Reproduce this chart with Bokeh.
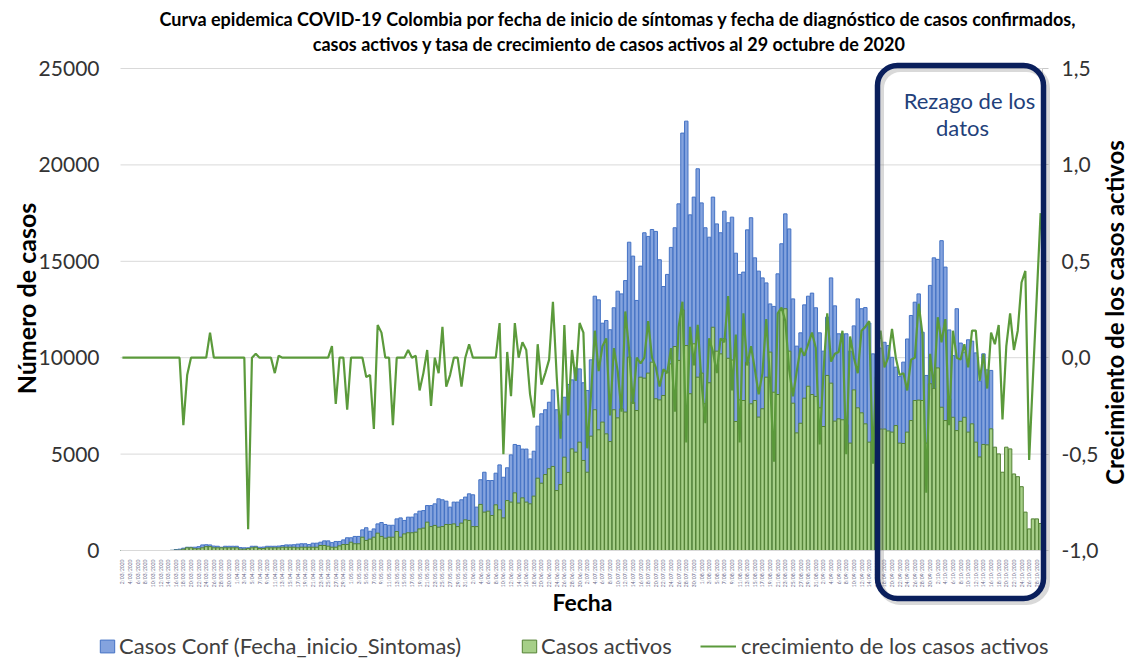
from math import pi
import pandas as pd
from bokeh.plotting import figure
from bokeh.models import (Range1d, LinearAxis, FixedTicker, CustomJSTickFormatter, Label,
                          Legend, LegendItem, BoxAnnotation, ColumnDataSource)
from bokeh.embed import file_html
from bokeh.resources import INLINE

# ---------------- data ----------------
fechas = [f"{d.day}/{d.month:02d}/{d.year}" for d in pd.date_range("2020-03-02", "2020-10-29")]

casos_conf = [
    0, 0, 0, 0, 0, 0, 0, 0, 0, 0, 0, 0, 0,
    10, 50, 70, 120, 170, 170, 170, 200, 290, 300,
    290, 230, 220, 170, 220, 220, 220, 220, 150, 140,
    140, 220, 220, 170, 180, 220, 220, 220, 230, 260,
    290, 290, 300, 330, 350, 350, 310, 380, 380, 430,
    500, 500, 410, 470, 470, 550, 660, 660, 730, 730,
    1070, 1180, 1000, 1120, 1380, 1450, 1350, 1310, 1310, 1640,
    1690, 1560, 1730, 1730, 1900, 2040, 2070, 2330, 2330, 2420,
    2680, 2630, 2560, 2250, 2510, 2510, 2630, 2770, 2940, 2890,
    2250, 3670, 4060, 3630, 3630, 4010, 4440, 3800, 4290, 4960,
    5500, 5450, 5260, 5260, 4750, 5150, 6450, 7090, 7300, 7690,
    8330, 7300, 6690, 7950, 8610, 8850, 9470, 9420, 8700, 8300,
    9890, 13190, 13000, 11790, 11930, 11450, 12590, 13450, 13310, 14000,
    15990, 15270, 12970, 14750, 16480, 16290, 16650, 16550, 15080, 13690,
    14320, 15720, 16740, 17980, 21650, 22270, 17410, 18330, 19800, 18030,
    16740, 16250, 18330, 16940, 16480, 17600, 17000, 17290, 15420, 14320,
    14440, 16630, 17260, 15180, 14490, 14140, 13880, 12790, 12660, 14350,
    15910, 17460, 16680, 13050, 10600, 11290, 12740, 13190, 13350, 12590,
    11290, 10340, 12100, 14140, 12690, 11240, 11240, 11240, 10340, 11650,
    13050, 12540, 12600, 11800, 10200, 9000, 10500, 10800, 10630, 10020,
    9510, 9020, 9770, 10970, 12190, 12880, 13310, 11320, 9080, 13750,
    15180, 15100, 16070, 14700, 11440, 10110, 12540, 10760, 10290, 10930,
    10860, 10250, 8780, 10200, 9370, 9340,
    0, 0, 0, 0, 0, 0, 0, 0, 0, 0, 0, 0, 0,
]

casos_activos = [
    0, 0, 0, 0, 0, 0, 0, 0, 0, 0, 0, 0, 0,
    5, 20, 20, 70, 140, 140, 90, 90, 140, 200,
    200, 140, 140, 140, 140, 140, 140, 140, 70, 70,
    100, 140, 170, 100, 100, 140, 140, 140, 140, 170,
    170, 170, 170, 140, 170, 170, 170, 170, 170, 260,
    260, 225, 170, 170, 240, 310, 310, 430, 350, 350,
    690, 520, 590, 690, 900, 730, 640, 690, 690, 985,
    690, 860, 920, 920, 950, 1120, 1160, 1470, 1240, 1300,
    1210, 1240, 1350, 1350, 1380, 1240, 1420, 1590, 1560, 1240,
    1240, 2390, 1990, 2040, 1815, 2370, 2110, 1690, 2590, 2510,
    2990, 2460, 2730, 2510, 2420, 2820, 3750, 3490, 3940, 4240,
    4360, 3110, 3420, 4840, 4050, 5270, 5100, 5620, 4670, 4060,
    5930, 7300, 6260, 6660, 6050, 5650, 7300, 6880, 7350, 7180,
    10030, 7690, 7260, 8990, 8940, 9200, 9770, 7870, 7810, 8040,
    9250, 9680, 10580, 9860, 12480, 10630, 8130, 10720, 8990, 9200,
    7610, 8700, 11580, 10340, 10200, 10980, 9970, 9880, 6690, 7810,
    7780, 9770, 7610, 7780, 6920, 7350, 8990, 10290, 8210, 8090,
    12480, 12540, 10340, 7640, 6100, 6600, 7900, 8520, 8090, 7990,
    7400, 6430, 9080, 8680, 6710, 6830, 6780, 6540, 5570, 8330,
    7400, 7140, 6570, 5620, 5700, 6900, 6300, 6300, 6200, 6140,
    6480, 5570, 5550, 6140, 6740, 7780, 7800, 7780, 5570, 8650,
    8400, 9470, 7430, 6740, 7870, 6910, 6220, 6700, 6910, 6140,
    6570, 5620, 4850, 5500, 5480, 6310, 5360, 5010, 4060, 5360,
    5270, 3970, 3830, 3310, 1990, 1120, 1640, 1640, 1400,
]

crecimiento = [
    0, 0, 0, 0, 0, 0, 0, 0, 0, 0,
    0, 0, 0, 0, 0, 0, -0.35, -0.09, 0, 0,
    0, 0, 0, 0.13, 0, 0, 0, 0, 0, 0,
    0, 0, 0, -0.89, 0, 0.02, 0, 0, 0, 0,
    -0.08, 0.01, 0, 0, 0, 0, 0, 0, 0, 0,
    0, 0, 0, 0, 0, 0.06, -0.24, 0, 0, -0.27,
    0, 0, 0, 0, -0.10, -0.09, -0.37, 0.17, 0.13, 0,
    0, -0.35, 0, 0, 0, 0.04, 0, 0.01, -0.17, -0.08,
    0.04, -0.25, 0, -0.08, 0.16, -0.15, -0.09, 0, 0, -0.15,
    0, 0.07, 0, 0, 0, 0, 0, 0, 0, 0.18,
    -0.50, 0.03, -0.20, 0.18, 0, 0.08, 0.04, -0.19, -0.31, 0.07,
    -0.14, -0.08, -0.01, 0.29, -0.10, -0.42, 0.17, -0.30, 0.04, -0.12,
    0.18, 0.13, -0.47, -0.19, 0.14, -0.07, 0.06, 0.10, -0.30, 0.05,
    -0.07, -0.28, 0.24, 0.04, -0.24, 0, -0.03, 0, 0.19, 0,
    -0.05, -0.15, -0.06, -0.08, 0.05, -0.28, 0.16, 0.29, -0.44, 0.16,
    -0.04, 0.17, -0.13, -0.34, 0.10, 0.03, -0.08, 0.10, 0.08, 0.32,
    -0.17, 0.12, -0.44, 0.23, -0.04, 0.06, -0.06, -0.19, -0.08, 0.20,
    -0.12, -0.54, 0.23, 0.26, 0.19, -0.06, -0.20, -0.07, 0.05, 0.01,
    0.07, 0.13, 0.05, -0.45, -0.08, 0.23, -0.02, 0.02, 0.03, 0.14,
    -0.50, 0.11, 0, -0.08, 0.14, 0.16, 0.19, -0.55, 0.04, 0.14,
    -0.05, 0, 0.15, 0, -0.09, -0.08, -0.17, -0.01, 0, 0.28,
    0.12, -0.70, 0.02, -0.16, 0.21, 0.08, 0.20, -0.35, 0.14, 0,
    -0.01, 0.07, -0.05, 0.14, 0.14, -0.12, 0.02, -0.16, 0.13, 0.07,
    0.17, -0.32, 0.06, 0.23, 0.04, 0.14, 0.39, 0.45, -0.53, -0.10,
    0.32, 0.75,
]

left_ticks = [0, 5000, 10000, 15000, 20000, 25000]
right_ticks = [-1.0, -0.5, 0.0, 0.5, 1.0, 1.5]

titulo_1 = "Curva epidemica COVID-19 Colombia  por fecha de inicio de síntomas  y fecha de diagnóstico de casos confirmados,"
titulo_2 = "casos activos y tasa de crecimiento de casos activos  al 29 octubre de 2020"

# ---------------- layout (pixels) ----------------
W, H = 1133, 661
PL, PR, PT, PB = 120, 1042, 68, 550      # plot-area edges in page pixels
n = len(fechas)
x0, x1 = -0.5, n - 0.5
y0, y1 = left_ticks[0], left_ticks[-1]
g0, g1 = right_ticks[0], right_ticks[-1]

def ext(a, b, lo_px, hi_px, total):
    k = (b - a) / (hi_px - lo_px)
    return a - lo_px * k, b + (total - hi_px) * k

xr = ext(x0, x1, PL, PR, W)
yr = ext(y0, y1, H - PB, H - PT, H)
gr = ext(g0, g1, H - PB, H - PT, H)

FONT = "Lato"

src = ColumnDataSource(dict(x=list(range(n)), fecha=fechas, conf=casos_conf,
                            act=casos_activos, cre=crecimiento))

p = figure(width=W, height=H, output_backend="svg", toolbar_location=None,
           x_range=Range1d(*xr), y_range=Range1d(*yr),
           min_border=0, min_border_left=0, min_border_right=0,
           min_border_top=0, min_border_bottom=0)
p.title.visible = False
p.outline_line_color = None
p.background_fill_color = "white"
p.border_fill_color = "white"
p.xgrid.visible = False
p.ygrid.visible = False
p.extra_y_ranges = {"g": Range1d(*gr)}

# gridlines limited to the plot area
p.segment(x0=[x0] * len(left_ticks), x1=[x1] * len(left_ticks), y0=left_ticks, y1=left_ticks,
          line_color="#d9d9d9", line_width=1)

# left axis
p.yaxis.fixed_location = x0
p.yaxis.bounds = (y0, y1)
p.yaxis.ticker = FixedTicker(ticks=left_ticks)
p.yaxis.axis_line_color = None
p.yaxis.major_tick_line_color = None
p.yaxis.minor_tick_line_color = None
p.yaxis.major_label_text_font = FONT
p.yaxis.major_label_text_font_size = "21px"
p.yaxis.major_label_text_color = "#333333"
p.yaxis.major_label_standoff = 15

# bottom axis (dates)
p.xaxis.fixed_location = y0
p.xaxis.bounds = (x0, x1)
p.xaxis.ticker = FixedTicker(ticks=list(range(0, n, 2)))
p.xaxis.formatter = CustomJSTickFormatter(args=dict(d=fechas), code="return d[tick] || '';")
p.xaxis.major_label_orientation = pi / 2
p.xaxis.major_label_text_font = FONT
p.xaxis.major_label_text_font_size = "5px"
p.xaxis.major_label_text_color = "#6a6a8a"
p.xaxis.major_label_standoff = 3
p.xaxis.axis_line_color = "#d9d9d9"
p.xaxis.major_tick_line_color = None
p.xaxis.minor_tick_line_color = None

# glyphs
rb = p.vbar(x="x", top="conf", width=0.9, source=src,
            fill_color="#84a3de", line_color="#4472c4", line_width=1)
rg = p.vbar(x="x", top="act", width=0.9, source=src,
            fill_color="#a6cf88", line_color="#548235", line_width=1)
rl = p.line(x="x", y="cre", source=src, y_range_name="g",
            line_color="#5b9a3b", line_width=2.2)

# right axis
ax2 = LinearAxis(y_range_name="g", ticker=FixedTicker(ticks=right_ticks),
                 formatter=CustomJSTickFormatter(code="return tick.toFixed(1).replace('.', ',');"))
ax2.fixed_location = x1
ax2.bounds = (g0, g1)
ax2.axis_line_color = "#c8c8c8"
ax2.major_tick_line_color = "#c8c8c8"
ax2.major_tick_out = 6
ax2.major_tick_in = 0
ax2.minor_tick_line_color = None
ax2.major_label_text_font = FONT
ax2.major_label_text_font_size = "21px"
ax2.major_label_text_color = "#333333"
ax2.major_label_standoff = 13
p.add_layout(ax2, "right")

# rezago box (shadow + box), page pixels converted to bottom-up screen units
def box(l, r, t, b, **kw):
    return BoxAnnotation(left=l, right=r, top=H - t, bottom=H - b,
                         left_units="screen", right_units="screen",
                         top_units="screen", bottom_units="screen",
                         fill_color=None, fill_alpha=0, border_radius=20, **kw)

p.add_layout(box(880, 1046, 68, 601, line_color="#808080", line_alpha=0.3, line_width=7))
p.add_layout(box(877, 1043, 65, 598, line_color="#0a1f5c", line_alpha=1.0, line_width=5.5))

def lab(text, x, y, size, bold=False, color="black", angle=0.0):
    p.add_layout(Label(x=x, y=H - y, x_units="screen", y_units="screen", text=text,
                       text_font=FONT, text_font_size=size,
                       text_font_style="bold" if bold else "normal", text_color=color,
                       text_align="center", text_baseline="middle", angle=angle))

lab(titulo_1, 622, 18, "18px", bold=True)
lab(titulo_2, 611, 43, "18px", bold=True)
lab("Número de casos", 25, 298, "25px", bold=True, angle=pi / 2)
lab("Crecimiento de los casos activos", 1114, 312, "24px", bold=True, angle=pi / 2)
lab("Fecha", 582, 601, "23px", bold=True)
lab("Rezago de los", 969, 100, "22px", color="#22407a")
lab("datos", 962, 127, "22px", color="#22407a")

# legends
def leg(label, r, x, gw, sd):
    lg = Legend(items=[LegendItem(label=label, renderers=[r])], location=(x, 2),
                orientation="horizontal", glyph_width=gw, glyph_height=16, label_standoff=sd,
                padding=0, margin=0, border_line_color=None, background_fill_alpha=0,
                label_text_font=FONT, label_text_font_size="22px", label_text_color="#404040")
    p.add_layout(lg)

leg("Casos Conf (Fecha_inicio_Sintomas)", rb, 98, 18, 3)
leg("Casos activos", rg, 520, 18, 3)
leg("crecimiento de los casos activos", rl, 700, 36, 5)

open("out.html", "w").write(file_html(p, INLINE))
